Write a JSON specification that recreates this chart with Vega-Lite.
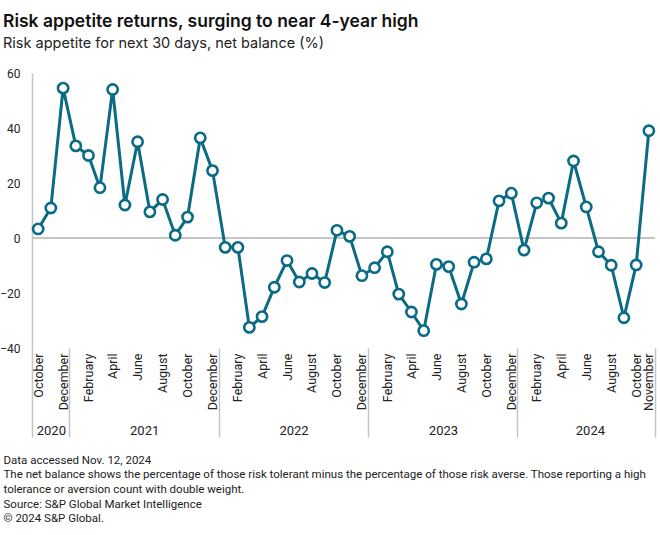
{
  "$schema": "https://vega.github.io/schema/vega-lite/v6.json",
  "width": 623,
  "height": 275,
  "autosize": {"type": "none"},
  "padding": {"left": 32, "top": 73, "right": 5, "bottom": 187},
  "background": "white",
  "config": {"view": {"stroke": null}, "font": "Roboto"},
  "title": {
    "text": "Risk appetite returns, surging to near 4-year high",
    "subtitle": "Risk appetite for next 30 days, net balance (%)",
    "anchor": "start",
    "frame": "group",
    "dx": -29,
    "font": "Inter",
    "fontSize": 17.5,
    "fontWeight": 600,
    "color": "#111111",
    "subtitleFont": "Inter",
    "subtitleFontSize": 14.5,
    "subtitleColor": "#222222",
    "subtitlePadding": 6,
    "offset": 17
  },
  "data": {
    "values": [
      {"date": "2020-10-01T00:00", "value": 3.3},
      {"date": "2020-11-01T00:00", "value": 10.9},
      {"date": "2020-12-01T00:00", "value": 54.5},
      {"date": "2021-01-01T00:00", "value": 33.5},
      {"date": "2021-02-01T00:00", "value": 30},
      {"date": "2021-03-01T00:00", "value": 18.3},
      {"date": "2021-04-01T00:00", "value": 54},
      {"date": "2021-05-01T00:00", "value": 12},
      {"date": "2021-06-01T00:00", "value": 35},
      {"date": "2021-07-01T00:00", "value": 9.5},
      {"date": "2021-08-01T00:00", "value": 14},
      {"date": "2021-09-01T00:00", "value": 1},
      {"date": "2021-10-01T00:00", "value": 7.6},
      {"date": "2021-11-01T00:00", "value": 36.4},
      {"date": "2021-12-01T00:00", "value": 24.5},
      {"date": "2022-01-01T00:00", "value": -3.4},
      {"date": "2022-02-01T00:00", "value": -3.4},
      {"date": "2022-03-01T00:00", "value": -32.5},
      {"date": "2022-04-01T00:00", "value": -28.6},
      {"date": "2022-05-01T00:00", "value": -17.9},
      {"date": "2022-06-01T00:00", "value": -8.2},
      {"date": "2022-07-01T00:00", "value": -16},
      {"date": "2022-08-01T00:00", "value": -12.9},
      {"date": "2022-09-01T00:00", "value": -16.2},
      {"date": "2022-10-01T00:00", "value": 2.8},
      {"date": "2022-11-01T00:00", "value": 0.6},
      {"date": "2022-12-01T00:00", "value": -13.7},
      {"date": "2023-01-01T00:00", "value": -10.8},
      {"date": "2023-02-01T00:00", "value": -5},
      {"date": "2023-03-01T00:00", "value": -20.4},
      {"date": "2023-04-01T00:00", "value": -26.9},
      {"date": "2023-05-01T00:00", "value": -33.7},
      {"date": "2023-06-01T00:00", "value": -9.6},
      {"date": "2023-07-01T00:00", "value": -10.4},
      {"date": "2023-08-01T00:00", "value": -24},
      {"date": "2023-09-01T00:00", "value": -8.8},
      {"date": "2023-10-01T00:00", "value": -7.6},
      {"date": "2023-11-01T00:00", "value": 13.5},
      {"date": "2023-12-01T00:00", "value": 16.3},
      {"date": "2024-01-01T00:00", "value": -4.4},
      {"date": "2024-02-01T00:00", "value": 12.8},
      {"date": "2024-03-01T00:00", "value": 14.5},
      {"date": "2024-04-01T00:00", "value": 5.4},
      {"date": "2024-05-01T00:00", "value": 28},
      {"date": "2024-06-01T00:00", "value": 11.3},
      {"date": "2024-07-01T00:00", "value": -5},
      {"date": "2024-08-01T00:00", "value": -9.9},
      {"date": "2024-09-01T00:00", "value": -29},
      {"date": "2024-10-01T00:00", "value": -9.8},
      {"date": "2024-11-01T00:00", "value": 39}
    ]
  },
  "resolve": {"axis": {"x": "independent"}},
  "layer": [
    {
      "mark": {"type": "rule", "color": "#c4c4c4", "strokeWidth": 1.5},
      "encoding": {"y": {"datum": 0, "type": "quantitative"}}
    },
    {
      "mark": {"type": "line", "color": "#0b6b85", "strokeWidth": 3},
      "encoding": {
        "x": {
          "field": "date",
          "type": "temporal",
          "scale": {"domain": [{"year": 2020, "month": 9, "date": 16}, {"year": 2024, "month": 11, "date": 16}]},
          "axis": {
            "orient": "bottom",
            "title": null,
            "domain": false,
            "ticks": false,
            "grid": false,
            "labelAngle": -90,
            "labelPadding": 5,
            "labelFontSize": 12.5,
            "labelColor": "#222222",
            "labelOverlap": false,
            "labelFlush": false,
            "labelExpr": "timeFormat(datum.value, '%B')",
            "values": [
              {"year": 2020, "month": 10, "date": 1},
              {"year": 2020, "month": 12, "date": 1},
              {"year": 2021, "month": 2, "date": 1},
              {"year": 2021, "month": 4, "date": 1},
              {"year": 2021, "month": 6, "date": 1},
              {"year": 2021, "month": 8, "date": 1},
              {"year": 2021, "month": 10, "date": 1},
              {"year": 2021, "month": 12, "date": 1},
              {"year": 2022, "month": 2, "date": 1},
              {"year": 2022, "month": 4, "date": 1},
              {"year": 2022, "month": 6, "date": 1},
              {"year": 2022, "month": 8, "date": 1},
              {"year": 2022, "month": 10, "date": 1},
              {"year": 2022, "month": 12, "date": 1},
              {"year": 2023, "month": 2, "date": 1},
              {"year": 2023, "month": 4, "date": 1},
              {"year": 2023, "month": 6, "date": 1},
              {"year": 2023, "month": 8, "date": 1},
              {"year": 2023, "month": 10, "date": 1},
              {"year": 2023, "month": 12, "date": 1},
              {"year": 2024, "month": 2, "date": 1},
              {"year": 2024, "month": 4, "date": 1},
              {"year": 2024, "month": 6, "date": 1},
              {"year": 2024, "month": 8, "date": 1},
              {"year": 2024, "month": 10, "date": 1},
              {"year": 2024, "month": 11, "date": 1}
            ]
          }
        },
        "y": {
          "field": "value",
          "type": "quantitative",
          "scale": {"domain": [-40, 60], "nice": false, "zero": false},
          "axis": {
            "title": null,
            "values": [-40, -20, 0, 20, 40, 60],
            "grid": false,
            "ticks": false,
            "domain": true,
            "domainColor": "#c4c4c4",
            "domainWidth": 1.5,
            "labelPadding": 12,
            "labelFontSize": 12,
            "labelColor": "#222222"
          }
        }
      }
    },
    {
      "mark": {"type": "point", "filled": true, "fill": "white", "stroke": "#0b6b85", "strokeWidth": 2.6, "size": 105, "opacity": 1},
      "encoding": {
        "x": {
          "field": "date",
          "type": "temporal",
          "axis": {
            "orient": "bottom",
            "domain": false,
            "ticks": false,
            "grid": false,
            "labelAngle": 0,
            "labelAlign": "center",
            "labelBaseline": "top",
            "labelPadding": 76,
            "labelFontSize": 13,
            "labelColor": "#222222",
            "labelOverlap": false,
            "labelFlush": false,
            "labelExpr": "timeFormat(datum.value, '%Y')",
            "values": [
              {"year": 2020, "month": 11, "date": 1},
              {"year": 2021, "month": 6, "date": 17},
              {"year": 2022, "month": 6, "date": 17},
              {"year": 2023, "month": 6, "date": 17},
              {"year": 2024, "month": 6, "date": 10}
            ],
            "title": [
              "Data accessed Nov. 12, 2024",
              "The net balance shows the percentage of those risk tolerant minus the percentage of those risk averse. Those reporting a high",
              "tolerance or aversion count with double weight.",
              "Source: S&P Global Market Intelligence",
              "© 2024 S&P Global."
            ],
            "titleFont": "Roboto",
            "titleFontSize": 11.5,
            "titleFontWeight": "normal",
            "titleColor": "#222222",
            "titleAnchor": "start",
            "titleAlign": "left",
            "titleBaseline": "top",
            "titleX": -29,
            "titleY": 106,
            "titleLineHeight": 14.7
          }
        },
        "y": {"field": "value", "type": "quantitative"}
      }
    },
    {
      "mark": {"type": "point", "opacity": 0},
      "encoding": {
        "x": {
          "field": "date",
          "type": "temporal",
          "axis": {
            "orient": "bottom",
            "title": null,
            "domain": false,
            "labels": false,
            "grid": false,
            "ticks": true,
            "tickSize": 89,
            "tickColor": "#c4c4c4",
            "tickWidth": 1.5,
            "values": [
              {"year": 2020, "month": 9, "date": 16},
              {"year": 2020, "month": 12, "date": 16},
              {"year": 2021, "month": 12, "date": 16},
              {"year": 2022, "month": 12, "date": 16},
              {"year": 2023, "month": 12, "date": 16},
              {"year": 2024, "month": 11, "date": 16}
            ]
          }
        },
        "y": {"field": "value", "type": "quantitative"}
      }
    }
  ]
}
